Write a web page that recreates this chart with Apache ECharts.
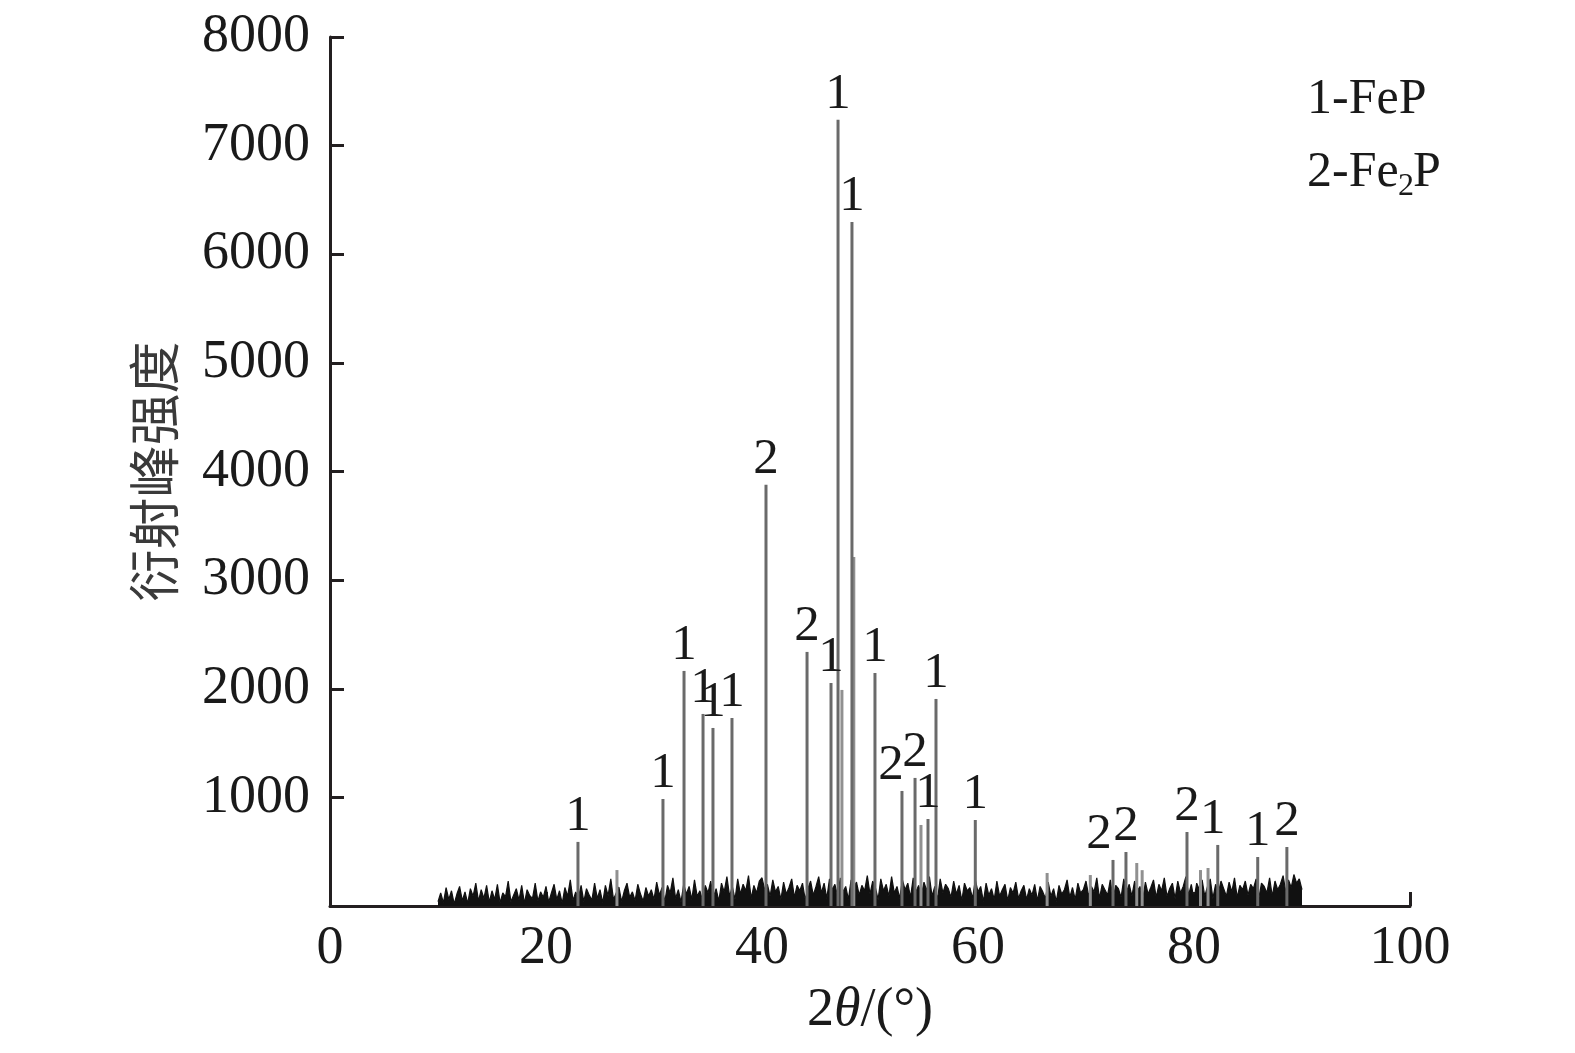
<!DOCTYPE html>
<html>
<head>
<meta charset="utf-8">
<script src="https://cdn.jsdelivr.net/npm/echarts@6/dist/echarts.min.js"></script>
<style>
html,body{margin:0;padding:0;background:#fff;}
#chart{width:1575px;height:1053px;}
</style>
</head>
<body>
<div id="chart"></div>
<script>
// ---------- DATA ----------
// Background noise, 2θ from 10 to 90 every 0.25°
const noiseStart = 10;
const noiseStep = 0.25;
const noise = [
  40,120,30,170,60,140,20,110,180,50,130,25,160,90,210,45,150,70,190,35,
  140,60,200,30,120,85,230,40,100,160,55,190,25,150,95,70,210,45,130,80,
  180,35,120,200,60,140,25,170,90,240,50,130,75,190,40,160,100,55,210,70,
  150,30,190,95,250,60,120,175,40,140,210,80,130,50,200,110,45,170,90,150,
  60,220,100,170,40,190,120,260,70,150,35,200,110,180,60,240,90,140,50,190,
  120,230,80,160,45,210,130,270,90,180,60,250,110,200,140,280,70,190,120,230,
  260,150,200,90,240,130,180,60,220,110,170,250,80,190,140,210,60,160,230,100,
  180,270,120,210,70,250,150,200,90,260,130,180,60,240,170,220,100,190,140,280,
  110,230,170,60,250,140,200,90,270,120,180,70,240,150,210,80,260,130,190,100,
  220,140,270,90,180,60,250,120,200,160,80,230,110,190,50,210,140,170,70,240,
  130,180,40,210,100,160,60,230,90,150,200,50,170,120,220,70,140,190,60,160,
  100,200,50,180,130,70,220,90,160,40,190,110,150,240,80,170,60,210,120,150,
  230,90,180,130,260,70,200,150,100,240,60,190,160,80,250,130,200,90,230,140,
  180,60,220,110,170,240,80,200,140,260,90,160,210,70,230,120,180,270,100,200,
  60,210,150,240,90,180,250,70,200,120,230,160,90,220,130,260,80,190,150,230,
  100,200,160,250,70,210,180,120,260,90,230,150,200,280,130,240,170,290,210,250,
  150
];

// Labelled diffraction peaks
const peakPos   = [22.96, 30.83, 32.78, 34.54, 35.46, 37.22, 40.37, 44.17, 46.39, 47.04, 48.33, 50.46, 52.96, 54.17, 55.37, 56.11, 59.75, 72.5, 73.7, 79.35, 82.2, 85.9, 88.6];
const peakInt   = [590, 985, 2164, 1768, 1639, 1731, 3877, 2339, 2053, 7238, 6298, 2145, 1059, 1179, 801, 1906, 792, 424, 497, 681, 562, 451, 543];
const peakPhase = ['1','1','1','1','1','1','2','2','1','1','1','1','2','2','1','1','1','2','2','2','1','1','2'];

// Unlabelled minor / satellite peaks
const minorPos = [26.57, 47.4, 48.5, 54.72, 66.4, 70.4, 74.7, 75.2, 80.6, 81.3];
const minorInt = [331, 1989, 3214, 746, 304, 285, 396, 330, 331, 350];

// Axis ticks
const xTicks = [0, 20, 40, 60, 80, 100];
const yTicks = [0, 1000, 2000, 3000, 4000, 5000, 6000, 7000, 8000];

// Legend text pieces
const legend1 = '1-FeP';
const legend2 = ['2-Fe', '2', 'P'];

// ---------- CHART ----------
const noiseData = noise.map((v, i) => [noiseStart + i * noiseStep, v]);
const peakData = peakPos.map((x, i) => [x, peakInt[i]]);
const minorData = minorPos.map((x, i) => [x, minorInt[i]]);

const labelNudge = {12: [-11, 0], 17: [-14, 0], 20: [-5, 0]};

const serif = '"Liberation Serif", "Times New Roman", serif';
const axisColor = '#231f20';
const textColor = '#1a1a1a';

const chart = echarts.init(document.getElementById('chart'), null, {renderer: 'canvas'});
chart.setOption({
  animation: false,
  backgroundColor: '#ffffff',
  grid: {left: 330, right: 165, top: 37, bottom: 147, containLabel: false},
  graphic: [
    {type: 'text', x: 1307, y: 100, style: {text: legend1, font: '50px ' + serif, fill: textColor, verticalAlign: 'middle', align: 'left'}},
    {type: 'text', x: 1307, y: 173, style: {text: legend2[0], font: '50px ' + serif, fill: textColor, verticalAlign: 'middle', align: 'left'}},
    {type: 'text', x: 1398, y: 187, style: {text: legend2[1], font: '32px ' + serif, fill: textColor, verticalAlign: 'middle', align: 'left'}},
    {type: 'text', x: 1413, y: 173, style: {text: legend2[2], font: '50px ' + serif, fill: textColor, verticalAlign: 'middle', align: 'left'}}
  ],
  xAxis: {
    type: 'value', min: xTicks[0], max: xTicks[xTicks.length - 1], interval: xTicks[1] - xTicks[0],
    splitLine: {show: false},
    axisLine: {lineStyle: {color: axisColor, width: 3}},
    axisTick: {inside: true, length: 14, lineStyle: {color: axisColor, width: 3}},
    axisLabel: {fontFamily: serif, fontSize: 54, color: textColor, margin: 16},
    name: '{a|2}{b|θ}{a|/(°)}',
    nameLocation: 'middle', nameGap: 78,
    nameTextStyle: {rich: {
      a: {fontFamily: serif, fontSize: 54, color: textColor},
      b: {fontFamily: serif, fontSize: 54, fontStyle: 'italic', color: textColor}
    }}
  },
  yAxis: {
    type: 'value', min: yTicks[0], max: yTicks[yTicks.length - 1], interval: yTicks[1] - yTicks[0],
    splitLine: {show: false},
    axisLine: {show: true, lineStyle: {color: axisColor, width: 3}},
    axisTick: {show: true, inside: true, length: 14, lineStyle: {color: axisColor, width: 3}},
    axisLabel: {fontFamily: serif, fontSize: 54, color: textColor, margin: 20,
      formatter: v => (v === 0 ? '' : String(v))},
    name: '衍射峰强度',
    nameLocation: 'middle', nameGap: 150, nameRotate: 90,
    nameTextStyle: {fontFamily: '"Noto Sans CJK SC", sans-serif', fontSize: 52, color: '#3a3a3a'}
  },
  series: [
    {
      type: 'line', data: noiseData, symbol: 'none', z: 2,
      lineStyle: {color: '#111111', width: 1.2},
      areaStyle: {color: '#111111', opacity: 1}
    },
    {
      type: 'bar', data: minorData, barWidth: 3, z: 3,
      itemStyle: {color: '#909090'}
    },
    {
      type: 'bar', data: peakData, barWidth: 3, barGap: '-100%', z: 4,
      itemStyle: {color: '#6a6a6a'},
      label: {
        show: true, position: 'top', distance: 0,
        fontFamily: serif, fontSize: 51, color: textColor,
        formatter: p => peakPhase[p.dataIndex]
      },
      labelLayout: p => (labelNudge[p.dataIndex] ? {dx: labelNudge[p.dataIndex][0], dy: labelNudge[p.dataIndex][1]} : {})
    }
  ]
});
</script>
</body>
</html>
